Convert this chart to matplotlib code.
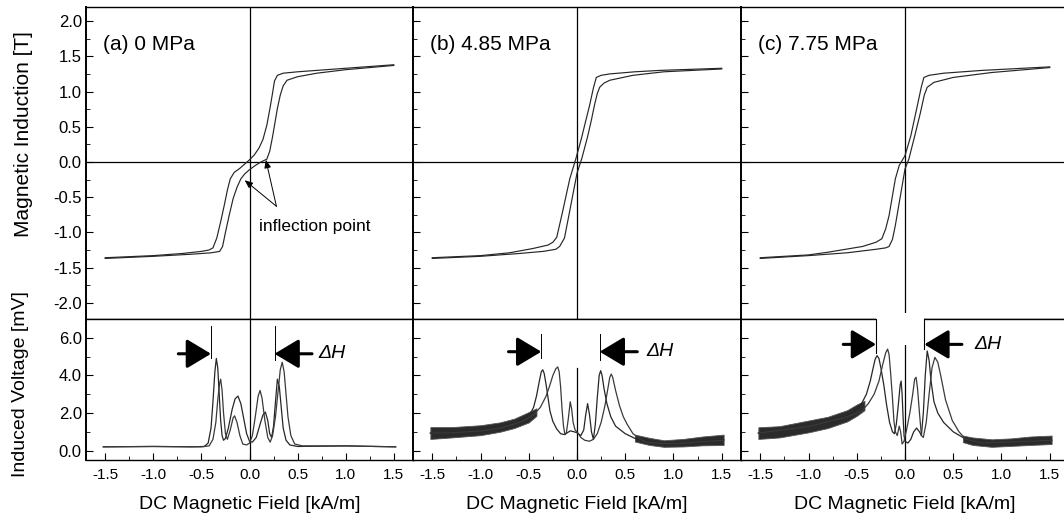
import matplotlib
matplotlib.use('Agg')
import matplotlib.pyplot as plt
from matplotlib.ticker import MultipleLocator, FormatStrFormatter
from matplotlib.patches import Rectangle

plt.rcParams['font.family'] = ['Liberation Sans', 'DejaVu Sans']

# ---- data ----
labels = ['(a) 0 MPa', '(b) 4.85 MPa', '(c) 7.75 MPa']

# hysteresis loops, descending and ascending branches (H in kA/m, B in T)
a_desc_H = [-1.5, -1.0, -0.7, -0.5, -0.42, -0.38, -0.34, -0.3, -0.26, -0.23, -0.2, -0.16, -0.1,
            -0.05, 0.0, 0.05, 0.1, 0.14, 0.18, 0.21, 0.24, 0.26, 0.29, 0.35, 0.5, 1.0, 1.5]
a_desc_B = [-1.36, -1.33, -1.3, -1.27, -1.25, -1.22, -1.08, -0.85, -0.6, -0.4, -0.24, -0.15, -0.09,
            -0.03, 0.03, 0.1, 0.2, 0.32, 0.52, 0.74, 0.98, 1.15, 1.23, 1.26, 1.28, 1.33, 1.38]
a_asc_H = [-1.5, -1.0, -0.6, -0.4, -0.31, -0.28, -0.25, -0.21, -0.17, -0.13, -0.09, -0.05, 0.0,
           0.06, 0.12, 0.18, 0.21, 0.24, 0.27, 0.29, 0.32, 0.35, 0.39, 0.5, 0.7, 1.0, 1.5]
a_asc_B = [-1.37, -1.34, -1.31, -1.29, -1.27, -1.2, -1.0, -0.75, -0.52, -0.36, -0.24, -0.17, -0.11,
           -0.05, 0.0, 0.04, 0.15, 0.36, 0.6, 0.76, 0.95, 1.08, 1.16, 1.21, 1.26, 1.31, 1.37]

b_desc_H = [-1.5, -1.0, -0.7, -0.46, -0.3, -0.25, -0.21, -0.15, -0.075, -0.013, 0.045, 0.09,
            0.13, 0.17, 0.2, 0.25, 0.34, 0.6, 0.86, 1.5]
b_desc_B = [-1.36, -1.33, -1.29, -1.23, -1.18, -1.14, -1.07, -0.71, -0.24, 0.04, 0.33, 0.58,
            0.8, 1.05, 1.2, 1.23, 1.25, 1.28, 1.3, 1.33]
b_asc_H = [-1.5, -1.0, -0.6, -0.35, -0.22, -0.18, -0.13, -0.09, -0.045, 0.0, 0.05, 0.11,
           0.15, 0.18, 0.21, 0.235, 0.28, 0.34, 0.58, 0.9, 1.5]
b_asc_B = [-1.37, -1.34, -1.3, -1.27, -1.24, -1.2, -1.08, -0.8, -0.48, -0.16, 0.05, 0.36,
           0.6, 0.8, 0.97, 1.06, 1.12, 1.16, 1.23, 1.28, 1.32]

c_desc_H = [-1.5, -1.0, -0.79, -0.44, -0.3, -0.24, -0.2, -0.165, -0.1, -0.06, 0.0, 0.06,
            0.128, 0.17, 0.196, 0.25, 0.4, 0.8, 1.5]
c_desc_B = [-1.36, -1.32, -1.28, -1.2, -1.14, -1.09, -0.95, -0.76, -0.24, -0.05, 0.09, 0.37,
            0.8, 1.07, 1.2, 1.23, 1.26, 1.3, 1.35]
c_asc_H = [-1.5, -1.0, -0.6, -0.3, -0.2, -0.165, -0.13, -0.1, -0.03, 0.0, 0.04, 0.11,
           0.16, 0.2, 0.23, 0.3, 0.5, 0.9, 1.5]
c_asc_B = [-1.37, -1.33, -1.29, -1.24, -1.22, -1.2, -1.1, -0.9, -0.34, -0.1, 0.04, 0.42,
           0.7, 0.95, 1.06, 1.13, 1.2, 1.27, 1.34]

# induced voltage, two traces per panel (mV)
a_v1_H = [-1.52, -1.0, -0.6, -0.47, -0.43, -0.4, -0.38, -0.36, -0.345, -0.33, -0.315, -0.3, -0.285,
          -0.27, -0.25, -0.22, -0.18, -0.15, -0.12, -0.09, -0.06, -0.03, 0.0, 0.03, 0.07, 0.11,
          0.14, 0.165, 0.19, 0.21, 0.23, 0.25, 0.27, 0.29, 0.31, 0.33, 0.35, 0.38, 0.42, 0.5,
          1.0, 1.52]
a_v1_V = [0.2, 0.22, 0.2, 0.22, 0.4, 1.2, 2.6, 4.2, 4.9, 4.4, 3.0, 1.6, 0.8,
          0.55, 0.65, 1.2, 2.2, 2.75, 2.9, 2.5, 1.7, 0.9, 0.5, 0.45, 0.7, 1.4,
          1.9, 2.05, 1.6, 0.9, 0.7, 1.3, 2.6, 3.8, 3.4, 2.3, 1.2, 0.55, 0.3, 0.22,
          0.25, 0.2]
a_v2_H = [-1.52, -1.0, -0.5, -0.42, -0.38, -0.35, -0.33, -0.31, -0.3, -0.285, -0.27, -0.25, -0.23,
          -0.2, -0.17, -0.155, -0.13, -0.1, -0.07, -0.03, 0.0, 0.03, 0.06, 0.09, 0.11, 0.13,
          0.16, 0.19, 0.215, 0.24, 0.27, 0.3, 0.32, 0.34, 0.36, 0.38, 0.4, 0.43, 0.47, 0.55,
          1.0, 1.52]
a_v2_V = [0.2, 0.22, 0.2, 0.25, 0.6, 1.5, 2.7, 3.6, 3.8, 3.2, 2.0, 0.9, 0.6,
          1.1, 1.75, 1.85, 1.5, 0.8, 0.35, 0.3, 0.4, 0.8, 1.8, 2.9, 3.2, 2.8,
          1.6, 0.7, 0.45, 0.8, 1.8, 3.3, 4.3, 4.7, 4.2, 3.0, 1.8, 0.8, 0.35, 0.25,
          0.25, 0.2]

b_v1_H = [-1.52, -1.3, -1.0, -0.8, -0.66, -0.55, -0.48, -0.45, -0.42, -0.39, -0.37, -0.355, -0.34,
          -0.32, -0.3, -0.28, -0.25, -0.21, -0.17, -0.13, -0.1, -0.07, -0.03, 0.0, 0.04, 0.07,
          0.09, 0.11, 0.13, 0.15, 0.17, 0.19, 0.21, 0.23, 0.245, 0.26, 0.28, 0.31, 0.35, 0.4,
          0.5, 0.6, 0.75, 0.9, 1.1, 1.3, 1.52]
b_v1_V = [0.93, 0.95, 1.1, 1.25, 1.45, 1.7, 2.0, 2.3, 2.9, 3.7, 4.2, 4.3, 4.1,
          3.5, 2.8, 2.1, 1.55, 1.15, 0.9, 0.85, 0.95, 1.05, 1.0, 0.95, 0.8, 1.1,
          1.9, 2.5, 1.9, 1.0, 0.6, 1.4, 2.8, 4.0, 4.25, 4.0, 3.3, 2.5, 1.8, 1.3,
          0.9, 0.65, 0.5, 0.4, 0.42, 0.5, 0.58]
b_v2_H = [-1.52, -1.3, -1.0, -0.8, -0.66, -0.55, -0.45, -0.38, -0.32, -0.28, -0.25, -0.22, -0.2,
          -0.185, -0.17, -0.155, -0.14, -0.125, -0.11, -0.09, -0.07, -0.055, -0.04, -0.02, 0.0,
          0.04, 0.08, 0.13, 0.17, 0.21, 0.25, 0.29, 0.32, 0.34, 0.355, 0.37, 0.4, 0.44, 0.48,
          0.52, 0.58, 0.66, 0.72, 0.9, 1.1, 1.3, 1.52]
b_v2_V = [0.93, 0.95, 1.05, 1.2, 1.4, 1.6, 1.9, 2.3, 2.9, 3.5, 4.0, 4.35, 4.45,
          4.2, 3.4, 2.2, 1.3, 0.85, 0.95, 1.7, 2.6, 2.2, 1.5, 1.1, 1.0,
          0.7, 0.55, 0.5, 0.6, 0.9, 1.5, 2.4, 3.3, 3.9, 4.07, 3.9, 3.2, 2.4, 1.8,
          1.4, 0.9, 0.6, 0.45, 0.38, 0.4, 0.48, 0.55]

c_v1_H = [-1.52, -1.0, -0.6, -0.5, -0.45, -0.4, -0.36, -0.33, -0.31, -0.29, -0.27, -0.25, -0.22,
          -0.19, -0.16, -0.13, -0.11, -0.09, -0.07, -0.05, -0.04, -0.03, -0.02, -0.01, 0.0,
          0.03, 0.06, 0.09, 0.12, 0.15, 0.17, 0.19, 0.21, 0.23, 0.25, 0.27, 0.3, 0.34, 0.4,
          0.5, 0.65, 0.8, 1.0, 1.3, 1.52]
c_v1_V = [0.93, 1.28, 1.85, 2.2, 2.5, 3.0, 3.7, 4.4, 4.85, 5.05, 4.9, 4.4, 3.5,
          2.4, 1.5, 1.0, 0.9, 1.4, 2.4, 3.5, 3.7, 3.0, 1.8, 0.8, 0.5,
          0.4, 0.6, 1.0, 1.2, 1.0, 0.8, 2.0, 4.0, 5.3, 4.8, 3.7, 2.6, 2.0, 1.5,
          1.0, 0.55, 0.4, 0.45, 0.5, 0.55]
c_v2_H = [-1.52, -1.0, -0.6, -0.45, -0.38, -0.32, -0.27, -0.23, -0.2, -0.18, -0.165, -0.15, -0.13,
          -0.115, -0.1, -0.08, -0.06, -0.045, -0.03, -0.01, 0.02, 0.05, 0.08, 0.1, 0.115,
          0.13, 0.15, 0.17, 0.19, 0.22, 0.25, 0.28, 0.31, 0.34, 0.37, 0.42, 0.49, 0.56, 0.63,
          0.8, 1.0, 1.3, 1.52]
c_v2_V = [0.93, 1.28, 1.8, 2.1, 2.5, 3.0, 3.7, 4.6, 5.2, 5.4, 5.1, 4.2, 2.8,
          1.6, 1.0, 0.8, 1.3, 1.0, 0.35, 0.5, 1.2, 2.0, 3.0, 3.8, 3.9,
          3.3, 2.0, 0.8, 0.7, 1.5, 3.0, 4.4, 4.96, 4.7, 4.0, 2.7, 1.6, 1.0, 0.6,
          0.4, 0.45, 0.5, 0.55]

# noisy bands in (b) and (c)
b_bandL_H = [-1.52, -1.3, -1.0, -0.8, -0.65, -0.5, -0.42]
b_bandL_lo = [0.62, 0.7, 0.82, 1.0, 1.2, 1.5, 1.85]
b_bandL_hi = [1.25, 1.25, 1.35, 1.5, 1.7, 2.05, 2.25]
b_bandR_H = [0.6, 0.75, 0.9, 1.1, 1.3, 1.52]
b_bandR_lo = [0.48, 0.3, 0.2, 0.22, 0.28, 0.3]
b_bandR_hi = [0.85, 0.68, 0.55, 0.62, 0.75, 0.85]
c_bandL_H = [-1.52, -1.3, -1.0, -0.8, -0.6, -0.5, -0.42]
c_bandL_lo = [0.62, 0.7, 0.97, 1.2, 1.55, 1.85, 2.15]
c_bandL_hi = [1.24, 1.3, 1.6, 1.8, 2.15, 2.45, 2.65]
c_bandR_H = [0.6, 0.7, 0.9, 1.1, 1.3, 1.52]
c_bandR_lo = [0.45, 0.3, 0.2, 0.25, 0.3, 0.35]
c_bandR_hi = [0.8, 0.7, 0.6, 0.65, 0.75, 0.8]

# delta-H markers
dH_left = [-0.40, -0.37, -0.30]
dH_right = [0.26, 0.235, 0.20]
dH_y = [5.15, 5.26, 5.65]
zero_gap = [None, 4.4, 5.63]

loops = [(a_desc_H, a_desc_B, a_asc_H, a_asc_B),
         (b_desc_H, b_desc_B, b_asc_H, b_asc_B),
         (c_desc_H, c_desc_B, c_asc_H, c_asc_B)]
volts = [(a_v1_H, a_v1_V, a_v2_H, a_v2_V),
         (b_v1_H, b_v1_V, b_v2_H, b_v2_V),
         (c_v1_H, c_v1_V, c_v2_H, c_v2_V)]
bands = [None,
         [(b_bandL_H, b_bandL_lo, b_bandL_hi), (b_bandR_H, b_bandR_lo, b_bandR_hi)],
         [(c_bandL_H, c_bandL_lo, c_bandL_hi), (c_bandR_H, c_bandR_lo, c_bandR_hi)]]

W, Hh = 1064, 515
fig = plt.figure(figsize=(W / 100, Hh / 100), dpi=100)
lefts = [86, 413, 741]
widths = [327, 328, 328]
lc = '#262626'

for i in range(3):
    axt = fig.add_axes([lefts[i] / W, 196 / Hh, widths[i] / W, 312 / Hh])
    axb = fig.add_axes([lefts[i] / W, 55 / Hh, widths[i] / W, 141 / Hh])

    # top: B-H loop
    axt.set_xlim(-1.7, 1.7)
    axt.set_ylim(-2.23, 2.2)
    axt.axhline(0, color='black', lw=0.9, zorder=1)
    axt.axvline(0, color='black', lw=0.9, zorder=1)
    dH, dB, aH, aB = loops[i]
    axt.plot(dH, dB, color=lc, lw=0.85)
    axt.plot(aH, aB, color=lc, lw=0.85)
    axt.yaxis.set_major_locator(MultipleLocator(0.5))
    axt.yaxis.set_minor_locator(MultipleLocator(0.25))
    axt.yaxis.set_major_formatter(FormatStrFormatter('%.1f'))
    axt.tick_params(axis='x', which='both', bottom=False, labelbottom=False)
    axt.tick_params(axis='y', which='major', direction='in', length=5, pad=3, labelsize=12)
    axt.tick_params(axis='y', which='minor', direction='in', length=3)
    axt.text(-1.52, 1.67, labels[i], fontsize=15, va='center', ha='left')

    # bottom: induced voltage
    axb.set_xlim(-1.7, 1.7)
    axb.set_ylim(-0.5, 7.0)
    if zero_gap[i] is None:
        axb.axvline(0, color='black', lw=0.9, zorder=1)
    else:
        axb.axvline(0, ymax=(zero_gap[i] + 0.5) / 7.5, color='black', lw=0.9, zorder=1)
    if bands[i] is not None:
        for bH, blo, bhi in bands[i]:
            axb.fill_between(bH, blo, bhi, color='#2b2b2b', lw=0.6, edgecolor='#555555')
    v1H, v1V, v2H, v2V = volts[i]
    axb.plot(v1H, v1V, color=lc, lw=0.9)
    axb.plot(v2H, v2V, color='#3a3a3a', lw=0.9)

    if i == 2:
        axb.add_patch(Rectangle((dH_left[i], zero_gap[i]), dH_right[i] - dH_left[i], 7.32 - zero_gap[i],
                                facecolor='white', edgecolor='none', clip_on=False, zorder=5))
        axb.plot([dH_left[i], dH_left[i]], [7.0, 5.2], color='black', lw=0.8, zorder=6, clip_on=False)
        axb.plot([dH_right[i], dH_right[i]], [7.0, 5.4], color='black', lw=0.8, zorder=6, clip_on=False)
    else:
        top = 6.65 if i == 0 else 6.2
        axb.plot([dH_left[i], dH_left[i]], [top, 4.9], color='black', lw=0.7, zorder=6)
        axb.plot([dH_right[i], dH_right[i]], [top, 4.8], color='black', lw=0.7, zorder=6)

    arr = dict(arrowstyle='-|>,head_length=0.75,head_width=0.45', lw=2.2, color='black',
               shrinkA=0, shrinkB=0, mutation_scale=20)
    axb.annotate('', xy=(dH_left[i], dH_y[i]), xytext=(dH_left[i] - 0.34, dH_y[i]),
                 arrowprops=arr, zorder=7)
    axb.annotate('', xy=(dH_right[i], dH_y[i]), xytext=(dH_right[i] + 0.39, dH_y[i]),
                 arrowprops=arr, zorder=7)
    axb.text(0.72, dH_y[i], 'ΔH', fontsize=14, va='center', ha='left', fontstyle='italic')

    axb.set_xticks([-1.5, -1.0, -0.5, 0.0, 0.5, 1.0, 1.5])
    axb.xaxis.set_minor_locator(MultipleLocator(0.25))
    axb.xaxis.set_major_formatter(FormatStrFormatter('%.1f'))
    axb.set_yticks([0, 2, 4, 6])
    axb.yaxis.set_minor_locator(MultipleLocator(1))
    axb.yaxis.set_major_formatter(FormatStrFormatter('%.1f'))
    axb.tick_params(axis='both', which='major', direction='in', length=5)
    axb.tick_params(axis='both', which='minor', direction='in', length=3)
    axb.tick_params(axis='x', labelsize=11, pad=6)
    axb.tick_params(axis='y', labelsize=12, pad=3)
    axb.set_xlabel('DC Magnetic Field [kA/m]', fontsize=14, labelpad=10)

    for ax in (axt, axb):
        for s in ax.spines.values():
            s.set_linewidth(1.0)
        ax.spines['left'].set_linewidth(1.4)
        if i > 0:
            ax.tick_params(axis='y', which='both', labelleft=False)

    if i == 0:
        small = dict(arrowstyle='-|>,head_length=0.6,head_width=0.25', lw=0.7,
                     color='black', shrinkA=0, shrinkB=0, mutation_scale=8)
        axt.annotate('', xy=(-0.05, -0.26), xytext=(0.28, -0.63), arrowprops=small)
        axt.annotate('', xy=(0.17, 0.03), xytext=(0.28, -0.63), arrowprops=small)
        axt.text(0.10, -0.92, 'inflection point', fontsize=12.5, va='center', ha='left')

fig.text(24 / W, 1 - 134 / Hh, 'Magnetic Induction [T]', rotation=90, fontsize=15,
         ha='center', va='center')
fig.text(21 / W, 1 - 384 / Hh, 'Induced Voltage [mV]', rotation=90, fontsize=14,
         ha='center', va='center')

fig.savefig('out.png', dpi=100)
